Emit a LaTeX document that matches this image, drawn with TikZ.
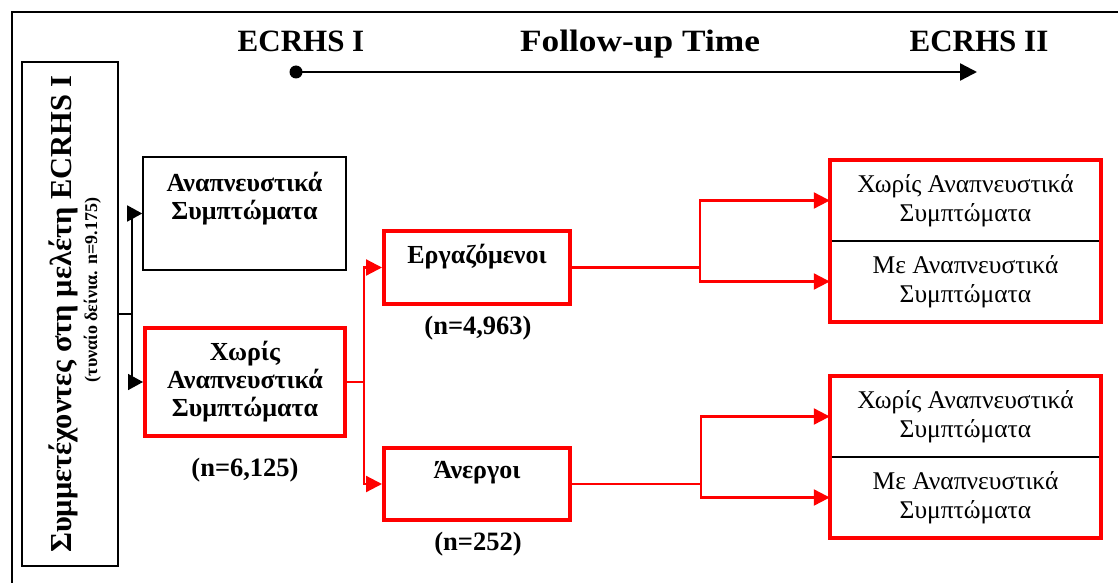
\documentclass[tikz,border=0pt]{standalone}
\usepackage{fontspec}
\setmainfont{Liberation Serif}
\usetikzlibrary{arrows.meta,fit}
\begin{document}
\begin{tikzpicture}[x=1pt,y=-1pt,
  frame/.style={draw=black, line width=1.6pt},
  plainbox/.style={draw=black, line width=1.6pt, inner sep=0pt},
  redbox/.style={draw=red, line width=4pt, inner sep=0pt},
  boldtxt/.style={font=\fontsize{26}{28}\selectfont\bfseries, align=center, inner sep=0pt},
  celltxt/.style={font=\fontsize{25.5}{28.5}\selectfont, align=center, inner sep=0pt,
                  minimum width=271pt, minimum height=81pt},
  countlbl/.style={font=\fontsize{26.5}{30}\selectfont\bfseries, inner sep=0pt},
  headlbl/.style={font=\fontsize{31}{36}\selectfont\bfseries, inner sep=0pt, anchor=base},
  blackarrow/.style={draw=black, line width=1.6pt, -{Triangle[length=15pt,width=16pt]}},
  redarrow/.style={draw=red, line width=2.2pt, -{Triangle[length=16pt,width=16pt]}},
]
\useasboundingbox (0,0) rectangle (1118,583);
\clip (0,0) rectangle (1118,583);

% outer frame
\draw[frame] (12,600) -- (12,12) -- (1130,12);

% time axis
\node[headlbl] (hA) at (301,52) {ECRHS I};
\node[headlbl] (hT) at (640,52) {\scalebox{1.14}[1]{Follow-up Time}};
\node[headlbl] (hB) at (979,52) {ECRHS II};
\coordinate (ta) at (296,72);
\coordinate (tb) at (977,72);
\fill (ta) circle (6.5);
\draw[line width=2.4pt, -{Triangle[length=17pt,width=17pt]}] (ta) -- (tb);

% cohort box with rotated title
\node[plainbox, minimum width=96pt, minimum height=504pt] (cohort) at (70,314) {};
\node[rotate=90, font=\fontsize{30.5}{34}\selectfont\bfseries, inner sep=0pt, anchor=base]
  (cohortT) at (71,314) {Συμμετέχοντες στη μελέτη ECRHS I};
\node[rotate=90, font=\fontsize{18}{20}\selectfont\bfseries, inner sep=0pt, anchor=base]
  (cohortS) at (97,290) {(τυναίο δείνια. n=9.175)};

% baseline symptom groups
\node[plainbox, minimum width=203pt, minimum height=113pt] (resp) at (244.5,213.5) {};
\node[boldtxt] (respT) at (244.5,199) {Αναπνευστικά\\Συμπτώματα};
\node[redbox, boldtxt, minimum width=200pt, minimum height=108pt] (nosym) at (245,382)
  {Χωρίς\\Αναπνευστικά\\Συμπτώματα};
\node[countlbl] (nosymN) at (245,470) {(n=6,125)};

% employment status
\node[redbox, minimum width=186pt, minimum height=73pt] (emp) at (477,267.5) {};
\node[boldtxt] (empT) at (477,257) {Εργαζόμενοι};
\node[countlbl] (empN) at (478,328) {(n=4,963)};
\node[redbox, minimum width=186pt, minimum height=72pt] (unemp) at (477,484) {};
\node[boldtxt] (unempT) at (477,473) {Άνεργοι};
\node[countlbl] (unempN) at (478,544) {(n=252)};

% outcomes at follow-up
\node[celltxt] (w1) at (965.5,200.5) {Χωρίς Αναπνευστικά\\Συμπτώματα};
\node[celltxt] (m1) at (965.5,281.5) {Με Αναπνευστικά\\Συμπτώματα};
\draw[line width=1.6pt] (w1.south west) -- (w1.south east);
\node[redbox, fit=(w1)(m1)] (out1) {};

\node[celltxt] (w2) at (965.5,416.5) {Χωρίς Αναπνευστικά\\Συμπτώματα};
\node[celltxt] (m2) at (965.5,497.5) {Με Αναπνευστικά\\Συμπτώματα};
\draw[line width=1.6pt] (w2.south west) -- (w2.south east);
\node[redbox, fit=(w2)(m2)] (out2) {};

% connectors
\draw[blackarrow] (cohort.east) -- ++(13,0) |- (resp.west);
\draw[blackarrow] (cohort.east) -- ++(13,0) |- (nosym.west);
\draw[redarrow] (nosym.east) -- ++(17,0) |- (emp.west);
\draw[redarrow] (nosym.east) -- ++(17,0) |- (unemp.west);
\draw[redarrow] (emp.east) -- ++(128,0) |- (w1.west);
\draw[redarrow] (emp.east) -- ++(128,0) |- (m1.west);
\draw[redarrow] (unemp.east) -- ++(129,0) |- (w2.west);
\draw[redarrow] (unemp.east) -- ++(129,0) |- (m2.west);
\end{tikzpicture}
\end{document}
